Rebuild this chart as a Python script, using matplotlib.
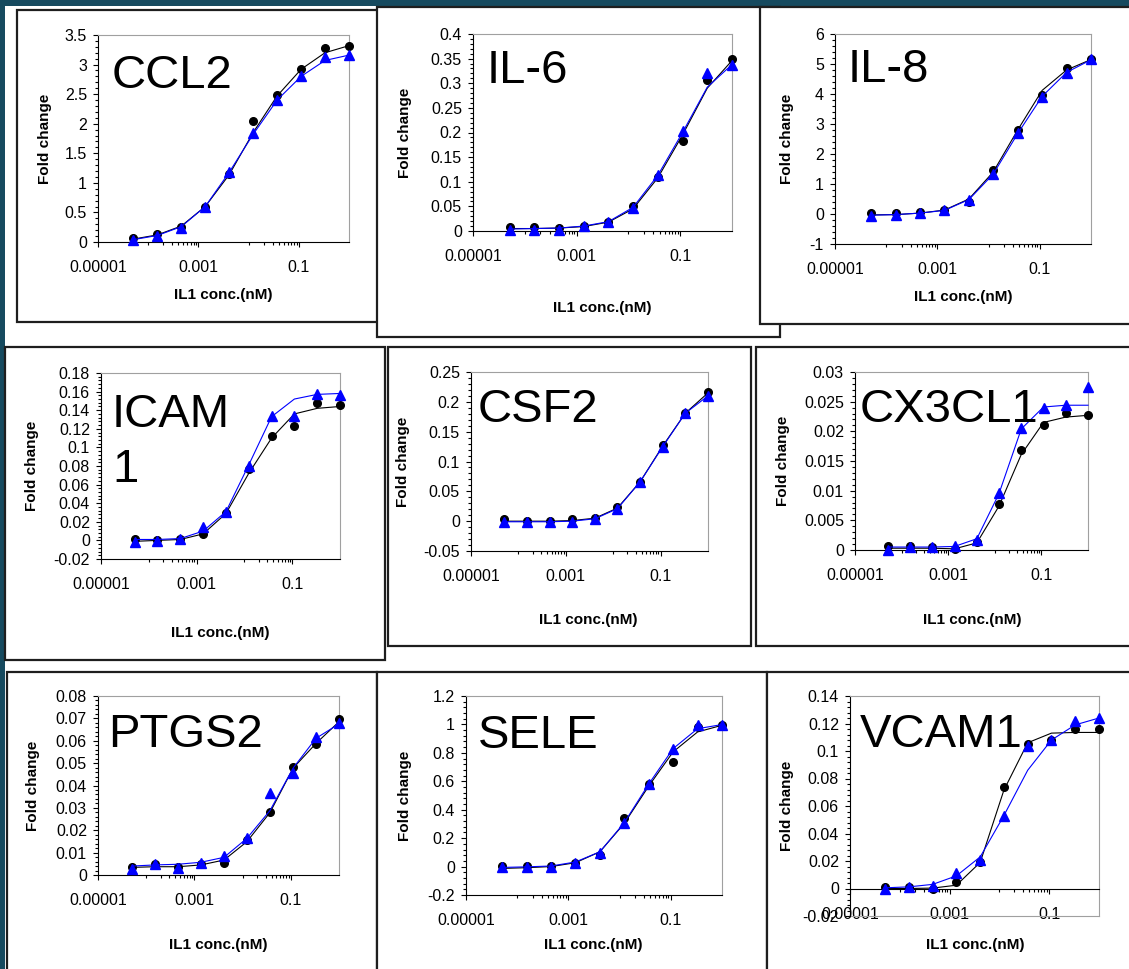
import matplotlib
matplotlib.use("Agg")
from matplotlib import pyplot as plt
from matplotlib.patches import Rectangle
from matplotlib.ticker import FixedLocator, MultipleLocator, AutoMinorLocator, FuncFormatter, NullFormatter

plt.rcParams['font.family'] = ['Liberation Sans', 'DejaVu Sans']

W, H = 1129, 969

# IL1 concentrations (nM), 3-fold dilutions
conc = [5.08e-5, 1.52e-4, 4.57e-4, 1.37e-3, 4.12e-3, 1.23e-2, 3.70e-2, 0.111, 0.333, 1.0]

# each gene: black circles + fit, blue triangles + fit
ccl2_dot = [0.06, 0.13, 0.25, 0.60, 1.15, 2.05, 2.49, 2.93, 3.28, 3.32]
ccl2_dot_fit = [0.05, 0.12, 0.27, 0.60, 1.14, 1.85, 2.47, 2.92, 3.20, 3.32]
ccl2_tri = [0.04, 0.10, 0.24, 0.60, 1.18, 1.84, 2.40, 2.81, 3.12, 3.16]
ccl2_tri_fit = [0.04, 0.11, 0.26, 0.60, 1.18, 1.82, 2.40, 2.80, 3.07, 3.16]

il6_dot = [0.0088, 0.0088, 0.0068, 0.011, 0.0176, 0.051, 0.109, 0.183, 0.307, 0.349]
il6_dot_fit = [0.005, 0.005, 0.006, 0.009, 0.018, 0.045, 0.108, 0.195, 0.290, 0.346]
il6_tri = [0.003, 0.003, 0.003, 0.010, 0.018, 0.046, 0.114, 0.203, 0.320, 0.338]
il6_tri_fit = [0.004, 0.005, 0.006, 0.010, 0.019, 0.048, 0.113, 0.200, 0.292, 0.338]

il8_dot = [0.03, 0.03, 0.07, 0.12, 0.40, 1.47, 2.80, 3.97, 4.85, 5.15]
il8_dot_fit = [-0.03, -0.02, 0.03, 0.13, 0.50, 1.40, 2.80, 4.12, 4.80, 5.15]
il8_tri = [-0.05, -0.02, 0.03, 0.12, 0.48, 1.33, 2.69, 3.91, 4.71, 5.15]
il8_tri_fit = [-0.04, -0.02, 0.03, 0.12, 0.48, 1.33, 2.68, 3.92, 4.72, 5.14]

icam1_dot = [0.0019, 0.0008, 0.0015, 0.0069, 0.0295, 0.077, 0.112, 0.1226, 0.1478, 0.1453]
icam1_dot_fit = [-0.001, 0.000, 0.001, 0.007, 0.029, 0.072, 0.110, 0.136, 0.142, 0.144]
icam1_tri = [-0.0017, -0.0003, 0.0019, 0.014, 0.031, 0.080, 0.134, 0.134, 0.157, 0.156]
icam1_tri_fit = [0.001, 0.001, 0.002, 0.010, 0.031, 0.081, 0.133, 0.152, 0.157, 0.158]

csf2_dot = [0.003, 0.0004, 0.0004, 0.003, 0.006, 0.024, 0.066, 0.128, 0.181, 0.216]
csf2_dot_fit = [0.000, 0.000, 0.000, 0.001, 0.005, 0.022, 0.066, 0.126, 0.181, 0.215]
csf2_tri = [-0.001, -0.001, -0.001, -0.001, 0.004, 0.021, 0.066, 0.125, 0.181, 0.210]
csf2_tri_fit = [-0.001, -0.001, -0.001, 0.000, 0.004, 0.021, 0.066, 0.125, 0.181, 0.210]

cx3cl1_dot = [0.00073, 0.00073, 0.00045, 0.00017, 0.0013, 0.0078, 0.0169, 0.0210, 0.0231, 0.0228]
cx3cl1_dot_fit = [0.0003, 0.0003, 0.0003, 0.0002, 0.0012, 0.0074, 0.0161, 0.0215, 0.0224, 0.0227]
cx3cl1_tri = [0.0000, 0.00045, 0.00045, 0.0006, 0.0017, 0.0096, 0.0206, 0.0239, 0.0245, 0.0275]
cx3cl1_tri_fit = [0.0005, 0.0005, 0.0005, 0.0006, 0.0019, 0.0095, 0.0204, 0.0241, 0.0244, 0.0244]

ptgs2_dot = [0.0037, 0.0048, 0.0034, 0.0049, 0.0052, 0.0156, 0.0283, 0.0484, 0.0585, 0.0696]
ptgs2_dot_fit = [0.0034, 0.0037, 0.0037, 0.0045, 0.0067, 0.0149, 0.0279, 0.0477, 0.0588, 0.0685]
ptgs2_tri = [0.0025, 0.0049, 0.0030, 0.0055, 0.0085, 0.0164, 0.0368, 0.0454, 0.0618, 0.0678]
ptgs2_tri_fit = [0.0040, 0.0045, 0.0048, 0.0057, 0.0079, 0.0164, 0.0288, 0.0477, 0.0611, 0.0675]

sele_dot = [0.006, 0.006, 0.006, 0.027, 0.081, 0.345, 0.580, 0.737, 0.983, 0.999]
sele_dot_fit = [-0.013, -0.008, 0.000, 0.027, 0.104, 0.303, 0.566, 0.807, 0.947, 0.994]
sele_tri = [-0.006, -0.006, -0.001, 0.027, 0.097, 0.308, 0.580, 0.830, 0.994, 0.999]
sele_tri_fit = [-0.006, -0.002, 0.004, 0.032, 0.104, 0.308, 0.580, 0.830, 0.970, 0.999]

vcam1_dot = [0.0012, 0.0010, 0.0000, 0.0044, 0.019, 0.074, 0.105, 0.108, 0.116, 0.116]
vcam1_dot_fit = [0.0, 0.0, 0.0003, 0.0024, 0.019, 0.0715, 0.106, 0.113, 0.1135, 0.1135]
vcam1_tri = [0.0, 0.001, 0.002, 0.011, 0.021, 0.053, 0.104, 0.108, 0.122, 0.124]
vcam1_tri_fit = [0.0005, 0.0012, 0.003, 0.0092, 0.023, 0.053, 0.086, 0.108, 0.119, 0.124]

genes = ['CCL2', 'IL-6', 'IL-8', 'ICAM\n1', 'CSF2', 'CX3CL1', 'PTGS2', 'SELE', 'VCAM1']
series = [
    (ccl2_dot, ccl2_dot_fit, ccl2_tri, ccl2_tri_fit),
    (il6_dot, il6_dot_fit, il6_tri, il6_tri_fit),
    (il8_dot, il8_dot_fit, il8_tri, il8_tri_fit),
    (icam1_dot, icam1_dot_fit, icam1_tri, icam1_tri_fit),
    (csf2_dot, csf2_dot_fit, csf2_tri, csf2_tri_fit),
    (cx3cl1_dot, cx3cl1_dot_fit, cx3cl1_tri, cx3cl1_tri_fit),
    (ptgs2_dot, ptgs2_dot_fit, ptgs2_tri, ptgs2_tri_fit),
    (sele_dot, sele_dot_fit, sele_tri, sele_tri_fit),
    (vcam1_dot, vcam1_dot_fit, vcam1_tri, vcam1_tri_fit),
]
y_ranges = [(0, 3.5, 0.5), (0, 0.4, 0.05), (-1, 6, 1), (-0.02, 0.18, 0.02), (-0.05, 0.25, 0.05),
            (0, 0.03, 0.005), (0, 0.08, 0.01), (-0.2, 1.2, 0.2), (-0.02, 0.14, 0.02)]

# layout in pixels: panel frame, plot area, title (left, baseline), ylabel x, xlabel centre
frames = [(17, 10, 390, 322), (377, 7, 780, 337), (760, 7, 1140, 324),
          (5, 347, 385, 660), (388, 347, 751, 646), (756, 347, 1140, 646),
          (7, 672, 377, 990), (377, 672, 767, 990), (767, 672, 1140, 990)]
plot_areas = [(98, 35, 349, 242), (473, 34, 732, 231), (835, 34, 1091, 244),
              (101, 373, 340, 559), (471, 372, 708, 551), (855, 372, 1088, 550),
              (98, 696, 339, 875), (466, 696, 722, 895), (850, 696, 1099, 916)]
title_pos = [(112, 88), (487, 83), (848, 82), (112, 427), (478, 422), (860, 422),
             (108, 747), (478, 748), (860, 747)]
ylabel_x = [45, 405, 787, 32, 403, 783, 33, 405, 787]
xlabel_pos = [(223, 295), (602, 308), (963, 297), (220, 633), (588, 620), (972, 620),
              (218, 945), (593, 945), (975, 945)]


def fx(px):
    return px / W


def fy(py):
    return 1 - py / H


def fmt(v, pos):
    return '%g' % (round(v, 6) + 0.0)


fig = plt.figure(figsize=(W / 100, H / 100), dpi=100, facecolor='#164a5f')
fig.add_artist(Rectangle((fx(5), 0), 1, fy(6), transform=fig.transFigure,
                         facecolor='white', edgecolor='none', zorder=-5))

for i, name in enumerate(genes):
    x0, y0, x1, y1 = frames[i]
    fig.add_artist(Rectangle((fx(x0), fy(y1)), fx(x1 - x0), (y1 - y0) / H, transform=fig.transFigure,
                             facecolor='white', edgecolor='#1e1e1e', lw=1.6, zorder=-4 + i * 0.01))

    a0, b0, a1, b1 = plot_areas[i]
    ax = fig.add_axes([fx(a0), fy(b1), (a1 - a0) / W, (b1 - b0) / H])
    dot, dot_fit, tri, tri_fit = series[i]
    ax.plot(conc, dot_fit, color='black', lw=0.8, zorder=3, clip_on=False)
    ax.plot(conc, dot, 'o', color='black', ms=5.5, zorder=4, clip_on=False)
    ax.plot(conc, tri_fit, color='#0000ff', lw=0.8, zorder=5, clip_on=False)
    ax.plot(conc, tri, '^', color='#0000ff', ms=7, zorder=6, clip_on=False)

    ax.set_xscale('log')
    ax.set_xlim(1e-5, 1)
    ymin, ymax, ystep = y_ranges[i]
    ax.set_ylim(ymin, ymax)

    ax.xaxis.set_major_locator(FixedLocator([1e-5, 1e-3, 1e-1]))
    ax.xaxis.set_major_formatter(FuncFormatter(lambda v, p: {1e-5: '0.00001', 1e-3: '0.001', 1e-1: '0.1'}.get(v, '')))
    ax.xaxis.set_minor_locator(FixedLocator([k * 1e-5 for k in range(10, 100, 10)] +
                                            [k * 1e-3 for k in range(10, 100, 10)]))
    ax.xaxis.set_minor_formatter(NullFormatter())
    ax.yaxis.set_major_locator(MultipleLocator(ystep))
    ax.yaxis.set_minor_locator(AutoMinorLocator(5))
    ax.yaxis.set_major_formatter(FuncFormatter(fmt))

    ax.tick_params(axis='both', which='both', direction='out', width=0.8, labelsize=11.5, colors='black')
    ax.tick_params(axis='x', which='major', length=3.5, pad=9.5)
    ax.tick_params(axis='x', which='minor', length=2.5)
    ax.tick_params(axis='y', which='major', length=3.5, pad=4.5)
    ax.tick_params(axis='y', which='minor', length=2)

    for s in ['top', 'right']:
        ax.spines[s].set_color('#a0a0a0')
        ax.spines[s].set_linewidth(0.8)
    for s in ['left', 'bottom']:
        ax.spines[s].set_color('black')
        ax.spines[s].set_linewidth(0.8)
    if name == 'VCAM1':
        # horizontal axis crosses at zero
        ax.spines['bottom'].set_position(('data', 0))
        ax.plot([0, 1], [0, 0], transform=ax.transAxes, color='#a0a0a0', lw=0.8, clip_on=False)

    tx, ty = title_pos[i]
    if '\n' in name:
        first, second = name.split('\n')
        fig.text(fx(tx), fy(ty), first, fontsize=34, ha='left', va='baseline')
        fig.text(fx(tx), fy(ty + 55), second, fontsize=34, ha='left', va='baseline')
    else:
        fig.text(fx(tx), fy(ty), name, fontsize=34, ha='left', va='baseline')

    fig.text(fx(ylabel_x[i]), fy((b0 + b1) / 2), 'Fold change', rotation=90, fontsize=11,
             fontweight='bold', ha='center', va='center')
    lx, ly = xlabel_pos[i]
    fig.text(fx(lx), fy(ly), 'IL1 conc.(nM)', fontsize=11, fontweight='bold', ha='center', va='center')

fig.savefig('out.png', dpi=100, facecolor=fig.get_facecolor())
